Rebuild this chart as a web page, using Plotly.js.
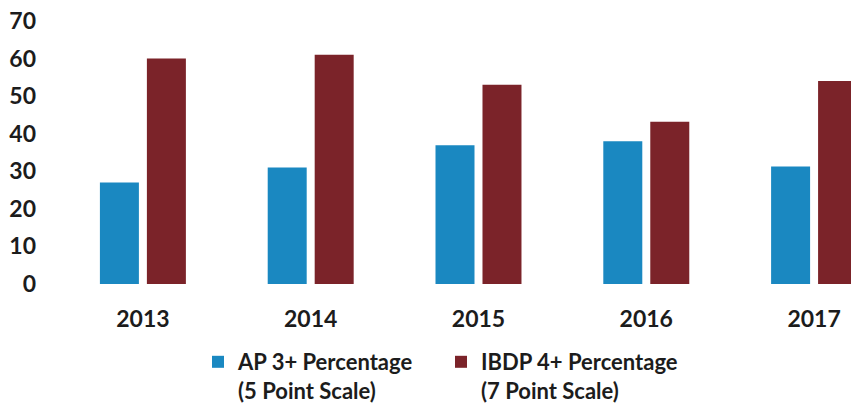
<!DOCTYPE html>
<html>
<head>
<meta charset="utf-8">
<script src="https://cdn.plot.ly/plotly-3.0.1.min.js"></script>
<style>html,body{margin:0;padding:0;background:#fff;}#chart{width:851px;height:411px;}</style>
</head>
<body>
<div id="chart"></div>
<script>
var years = ["2013", "2014", "2015", "2016", "2017"];
var apValues = [27.0, 31.0, 36.9, 38.0, 31.3];
var ibdpValues = [60.0, 61.0, 53.0, 43.2, 54.0];
var apName = "AP 3+ Percentage<br>(5 Point Scale)";
var ibdpName = "IBDP 4+ Percentage<br>(7 Point Scale)";
var yTicks = [0, 10, 20, 30, 40, 50, 60, 70];

var data = [
  {type: "bar", x: years, y: apValues, name: apName, marker: {color: "#1a88c1"}},
  {type: "bar", x: years, y: ibdpValues, name: ibdpName, marker: {color: "#7b2329"}}
];

var font = "Lato, 'Open Sans', sans-serif";
var ink = "#1c1c1c";
var layout = {
  width: 851, height: 411,
  margin: {l: 59, r: 0, t: 21, b: 127},
  paper_bgcolor: "#fff", plot_bgcolor: "#fff",
  barmode: "group", bargap: 0.44, bargroupgap: 0.17,
  showlegend: true,
  font: {family: font, color: ink, size: 20},
  xaxis: {
    type: "category", range: [-0.5, 4.22],
    showgrid: false, zeroline: false, showline: false,
    ticks: "", ticklabelstandoff: 19,
    tickfont: {family: font, size: 23, color: ink, weight: "bold"}
  },
  yaxis: {
    range: [0, 70], tickvals: yTicks, ticktext: yTicks.map(String),
    showgrid: false, zeroline: false, showline: false,
    ticks: "", ticklabelstandoff: 22,
    tickfont: {family: font, size: 23, color: ink, weight: "bold"}
  },
  legend: {
    orientation: "h", xref: "container", yref: "container",
    x: 198 / 851, xanchor: "left", y: (411 - 341) / 411, yanchor: "top",
    valign: "top", entrywidth: 198, entrywidthmode: "pixels",
    font: {family: font, size: 22, color: ink, weight: "bold"},
    bgcolor: "rgba(0,0,0,0)", traceorder: "normal"
  }
};

Plotly.newPlot("chart", data, layout, {displayModeBar: false, staticPlot: true});
</script>
</body>
</html>
